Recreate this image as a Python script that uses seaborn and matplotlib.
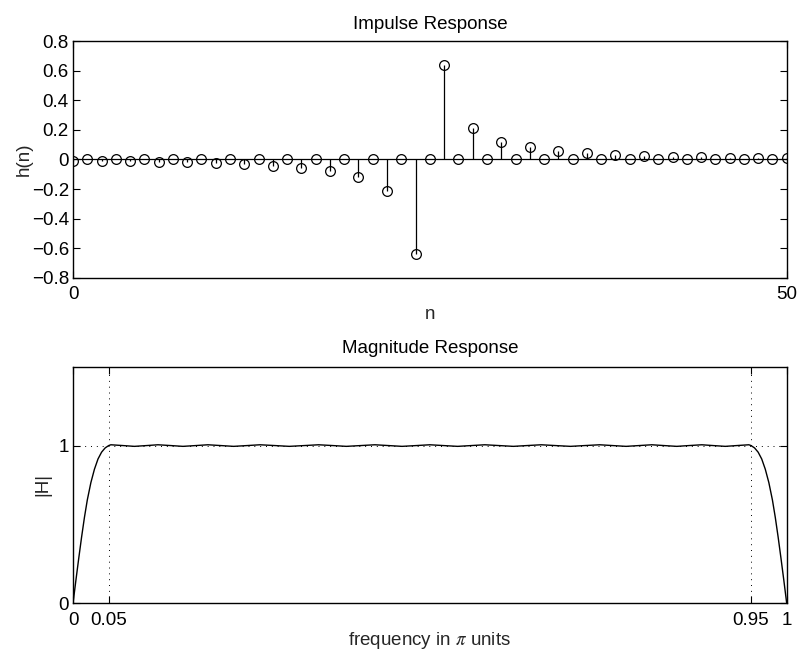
import numpy as np
import pandas as pd
import matplotlib
matplotlib.use("Agg")
import matplotlib.pyplot as plt
import seaborn as sns

# Impulse response h(n), n = 0..50
n_idx = list(range(51))
h_vals = [
    -0.007, 0, -0.008, 0, -0.011, 0, -0.014, 0, -0.019, 0,
    -0.025, 0, -0.032, 0, -0.043, 0, -0.058, 0, -0.081, 0,
    -0.118, 0, -0.210, 0, -0.636, 0, 0.636, 0, 0.210, 0,
    0.118, 0, 0.081, 0, 0.058, 0, 0.043, 0, 0.032, 0,
    0.025, 0, 0.019, 0, 0.014, 0, 0.011, 0, 0.008, 0,
    0.007,
]

# Magnitude response |H| sampled over frequency (in pi units)
freq = [
    0.000, 0.004, 0.008, 0.012, 0.016, 0.020, 0.025, 0.030, 0.035, 0.040,
    0.045, 0.050, 0.053, 0.070, 0.086, 0.103, 0.119, 0.137, 0.154, 0.172,
    0.189, 0.207, 0.225, 0.244, 0.262, 0.283, 0.303, 0.324, 0.344, 0.364,
    0.383, 0.403, 0.423, 0.442, 0.461, 0.481, 0.500, 0.519, 0.539, 0.558,
    0.577, 0.597, 0.617, 0.636, 0.656, 0.676, 0.697, 0.717, 0.738, 0.756,
    0.775, 0.793, 0.811, 0.828, 0.846, 0.863, 0.881, 0.897, 0.914, 0.930,
    0.947, 0.950, 0.955, 0.960, 0.965, 0.970, 0.975, 0.980, 0.984, 0.988,
    0.992, 0.996, 1.000,
]
mag = [
    0.000, 0.145, 0.285, 0.420, 0.545, 0.655, 0.765, 0.850, 0.915, 0.958,
    0.985, 1.000, 1.005, 1.000, 0.995, 1.000, 1.005, 1.000, 0.995, 1.000,
    1.005, 1.000, 0.995, 1.000, 1.005, 1.000, 0.995, 1.000, 1.005, 1.000,
    0.995, 1.000, 1.005, 1.000, 0.995, 1.000, 1.005, 1.000, 0.995, 1.000,
    1.005, 1.000, 0.995, 1.000, 1.005, 1.000, 0.995, 1.000, 1.005, 1.000,
    0.995, 1.000, 1.005, 1.000, 0.995, 1.000, 1.005, 1.000, 0.995, 1.000,
    1.005, 1.000, 0.985, 0.958, 0.915, 0.850, 0.765, 0.655, 0.545, 0.420,
    0.285, 0.145, 0.000,
]

imp_yticks = [-0.8, -0.6, -0.4, -0.2, 0, 0.2, 0.4, 0.6, 0.8]
imp_ylabels = ["\u22120.8", "\u22120.6", "\u22120.4", "\u22120.2", "0", "0.2", "0.4", "0.6", "0.8"]
imp_xticks = [0, 50]
mag_xticks = [0, 0.05, 0.95, 1]
mag_xlabels = ["0", "0.05", "0.95", "1"]
mag_yticks = [0, 1]

sns.set_style("ticks")
plt.rcParams.update({
    "font.family": ["Liberation Sans", "DejaVu Sans"],
    "font.size": 13.5,
    "axes.titlesize": 13.5,
    "axes.labelsize": 13.5,
    "mathtext.fontset": "stix",
    "xtick.direction": "in",
    "ytick.direction": "in",
    "xtick.top": True,
    "ytick.right": True,
    "xtick.major.size": 5,
    "ytick.major.size": 5,
    "axes.linewidth": 1.0,
    "axes.edgecolor": "black",
    "text.color": "black",
    "xtick.color": "black",
    "ytick.color": "black",
})

fig = plt.figure(figsize=(7.99, 6.51), dpi=100)
ax1 = fig.add_axes([0.0914, 0.573, 0.8932, 0.364])
ax2 = fig.add_axes([0.0914, 0.0733, 0.8932, 0.3634])

# Impulse response stem plot
imp = pd.DataFrame({"n": n_idx, "h": h_vals})
markers, stems, base = ax1.stem(imp["n"], imp["h"], linefmt="k-", markerfmt="ko", basefmt="k-")
markers.set_markerfacecolor("none")
markers.set_markeredgecolor("black")
markers.set_markersize(7)
markers.set_markeredgewidth(0.9)
stems.set_linewidth(0.9)
base.set_linewidth(0.9)
ax1.set_xlim(0, 50)
ax1.set_ylim(-0.8, 0.8)
ax1.set_xticks(imp_xticks)
ax1.set_yticks(imp_yticks)
ax1.set_yticklabels(imp_ylabels)
ax1.tick_params(axis="x", pad=6)
ax1.tick_params(axis="y", pad=3)
ax1.set_title("Impulse Response", pad=9)
ax1.set_xlabel("n", labelpad=2)
ax1.set_ylabel("h(n)", labelpad=-1)

# Magnitude response
resp = pd.DataFrame({"freq": freq, "mag": mag})
sns.lineplot(data=resp, x="freq", y="mag", ax=ax2, color="black", linewidth=1.0, zorder=3)
ax2.set_xlim(0, 1)
ax2.set_ylim(0, 1.5)
ax2.set_xticks(mag_xticks)
ax2.set_xticklabels(mag_xlabels)
ax2.set_yticks(mag_yticks)
ax2.grid(True, color="black", linestyle=(0, (1, 5)), linewidth=0.7)
ax2.tick_params(axis="x", pad=6)
ax2.tick_params(axis="y", pad=3)
ax2.set_title("Magnitude Response", pad=10)
ax2.set_xlabel("frequency in $\\pi$ units", labelpad=1)
ax2.set_ylabel("|H|", labelpad=5)

for ax in (ax1, ax2):
    for sp in ax.spines.values():
        sp.set_visible(True)
        sp.set_color("black")

fig.savefig("out.png", dpi=100, facecolor="white")
